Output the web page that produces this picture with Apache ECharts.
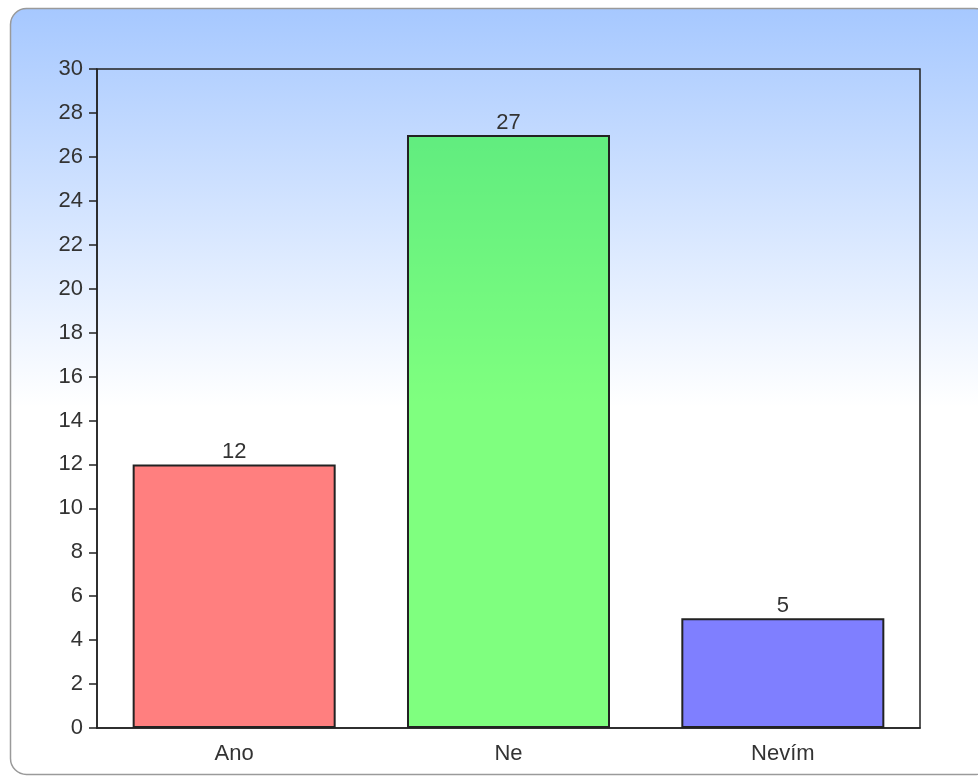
<!DOCTYPE html>
<html>
<head>
<meta charset="utf-8">
<script src="https://cdn.jsdelivr.net/npm/echarts@6/dist/echarts.min.js"></script>
<style>
html,body{margin:0;padding:0;background:#fff;}
#c{width:978px;height:780px;}
</style>
</head>
<body>
<div id="c"></div>
<script>
const categories = ['Ano', 'Ne', 'Nevím'];
const values = [12, 27, 5];
const barColors = ['rgba(255,0,0,0.5)', 'rgba(0,255,0,0.5)', 'rgba(0,0,255,0.5)'];
const yMin = 0, yMax = 30, yStep = 2;

const chart = echarts.init(document.getElementById('c'), null, {renderer: 'canvas'});
const font = 'Liberation Sans, Arial, sans-serif';
chart.setOption({
  animation: false,
  graphic: [{
    type: 'rect',
    z: -10,
    silent: true,
    shape: {x: 10.5, y: 8.5, width: 980, height: 766, r: 16},
    style: {
      fill: new echarts.graphic.LinearGradient(0, 0, 0, 1, [
        {offset: 0, color: '#a6c8ff'},
        {offset: 0.52, color: '#ffffff'},
        {offset: 1, color: '#ffffff'}
      ]),
      stroke: '#9a9a9a',
      lineWidth: 1.5
    }
  }],
  grid: {
    left: 97, right: 58, top: 69, bottom: 52,
    show: true, borderColor: '#222', borderWidth: 1.5, backgroundColor: 'transparent'
  },
  xAxis: {
    type: 'category',
    data: categories,
    axisLine: {lineStyle: {color: '#222', width: 1.5}},
    axisTick: {alignWithLabel: true, length: 7, lineStyle: {color: '#222', width: 1.5}},
    axisLabel: {color: '#333', fontSize: 22, fontFamily: font, margin: 15}
  },
  yAxis: {
    type: 'value',
    min: yMin, max: yMax, interval: yStep,
    splitLine: {show: false},
    axisLine: {show: true, lineStyle: {color: '#222', width: 1.5}},
    axisTick: {show: true, length: 8, lineStyle: {color: '#222', width: 1.5}},
    axisLabel: {color: '#333', fontSize: 22, fontFamily: font, margin: 14}
  },
  series: [{
    type: 'bar',
    barWidth: '74%',
    data: values.map((v, i) => ({value: v, itemStyle: {color: barColors[i]}})),
    itemStyle: {borderColor: '#222', borderWidth: 2},
    label: {show: true, position: 'top', color: '#333', fontSize: 22, fontFamily: font, distance: 1}
  }]
});
</script>
</body>
</html>
